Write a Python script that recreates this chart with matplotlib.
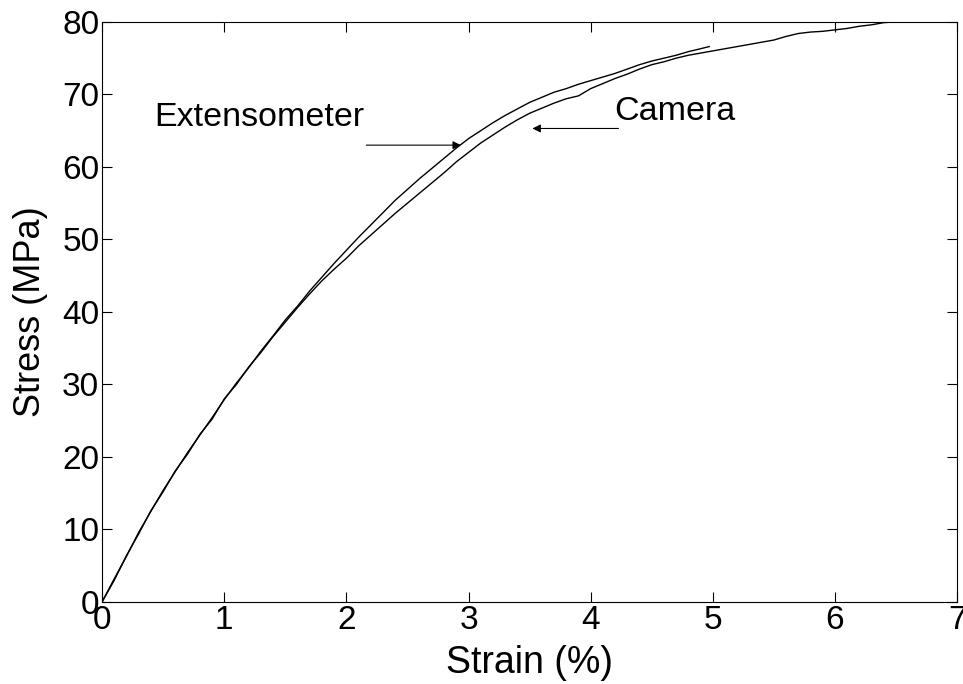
import matplotlib
matplotlib.use("Agg")
import matplotlib.pyplot as plt

plt.rcParams['font.family'] = ['Liberation Sans', 'DejaVu Sans']

ext_strain = [0.0, 0.1, 0.2, 0.3, 0.4, 0.5, 0.6, 0.7, 0.8, 0.9, 1.0, 1.1, 1.2, 1.3, 1.4,
              1.5, 1.6, 1.7, 1.8, 1.9, 2.0, 2.1, 2.2, 2.3, 2.4, 2.5, 2.6, 2.7, 2.8, 2.9,
              3.0, 3.1, 3.2, 3.3, 3.4, 3.5, 3.6, 3.7, 3.8, 3.9, 4.0, 4.1, 4.2, 4.3, 4.4,
              4.5, 4.6, 4.7, 4.8, 4.9, 4.97]
ext_stress = [0.0, 3.2, 6.3, 9.6, 12.5, 15.4, 18.0, 20.6, 23.0, 25.4, 27.9, 30.2, 32.3, 34.6, 36.7,
              38.9, 40.8, 42.9, 44.8, 46.7, 48.5, 50.3, 52.0, 53.7, 55.4, 56.9, 58.4, 59.8, 61.2, 62.6,
              63.9, 65.0, 66.1, 67.1, 68.0, 68.9, 69.6, 70.3, 70.8, 71.4, 71.9, 72.4, 72.9, 73.5, 74.1,
              74.6, 75.0, 75.4, 75.9, 76.3, 76.6]

cam_strain = [0.0, 0.1, 0.2, 0.3, 0.4, 0.5, 0.6, 0.7, 0.8, 0.9, 1.0, 1.1, 1.2, 1.3, 1.4,
              1.5, 1.6, 1.7, 1.8, 1.9, 2.0, 2.1, 2.2, 2.3, 2.4, 2.5, 2.6, 2.7, 2.8, 2.9,
              3.0, 3.1, 3.2, 3.3, 3.4, 3.5, 3.6, 3.7, 3.8, 3.9, 4.0, 4.1, 4.2, 4.3, 4.4,
              4.5, 4.6, 4.7, 4.8, 4.9, 5.0, 5.1, 5.2, 5.3, 5.4, 5.5, 5.6, 5.7, 5.8, 5.9,
              6.0, 6.1, 6.2, 6.3, 6.4, 6.5]
cam_stress = [0.0, 3.0, 6.4, 9.4, 12.6, 15.2, 18.1, 20.4, 23.1, 25.2, 28.0, 30.0, 32.4, 34.4, 36.6,
              38.6, 40.6, 42.5, 44.3, 45.9, 47.4, 49.1, 50.6, 52.1, 53.6, 55.0, 56.4, 57.8, 59.2, 60.7,
              62.0, 63.3, 64.4, 65.5, 66.5, 67.4, 68.1, 68.8, 69.4, 69.8, 70.8, 71.5, 72.2, 72.8, 73.5,
              74.1, 74.5, 75.0, 75.4, 75.7, 76.0, 76.3, 76.6, 76.9, 77.2, 77.5, 78.0, 78.4, 78.6, 78.7,
              78.9, 79.1, 79.4, 79.6, 79.9, 80.0]

x_ticks = [0, 1, 2, 3, 4, 5, 6, 7]
y_ticks = [0, 10, 20, 30, 40, 50, 60, 70, 80]

fig = plt.figure(figsize=(9.63, 6.84), dpi=100)
ax = fig.add_axes([0.106, 0.12, 0.888, 0.848])

ax.plot(ext_strain, ext_stress, color='black', lw=1.0)
ax.plot(cam_strain, cam_stress, color='black', lw=1.0)

ax.set_xlim(0, 7)
ax.set_ylim(0, 80)
ax.set_xticks(x_ticks)
ax.set_yticks(y_ticks)
ax.tick_params(direction='in', length=7, width=0.8, labelsize=24, top=True, right=True, pad=2)
for s in ax.spines.values():
    s.set_linewidth(0.8)

ax.set_xlabel('Strain (%)', fontsize=27)
ax.set_ylabel('Stress (MPa)', fontsize=26)
ax.xaxis.set_label_coords(0.5, -0.075)
ax.yaxis.set_label_coords(-0.063, 0.5)

ax.text(1.29, 66.8, 'Extensometer', fontsize=24.5, ha='center', va='center')
ax.annotate('', xy=(2.96, 63.0), xytext=(2.14, 63.0),
            arrowprops=dict(arrowstyle='-|>', color='black', lw=0.8, mutation_scale=12))
ax.text(4.69, 67.6, 'Camera', fontsize=24.5, ha='center', va='center')
ax.annotate('', xy=(3.5, 65.3), xytext=(4.25, 65.3),
            arrowprops=dict(arrowstyle='-|>', color='black', lw=0.8, mutation_scale=12))

fig.savefig('out.png', dpi=100)
